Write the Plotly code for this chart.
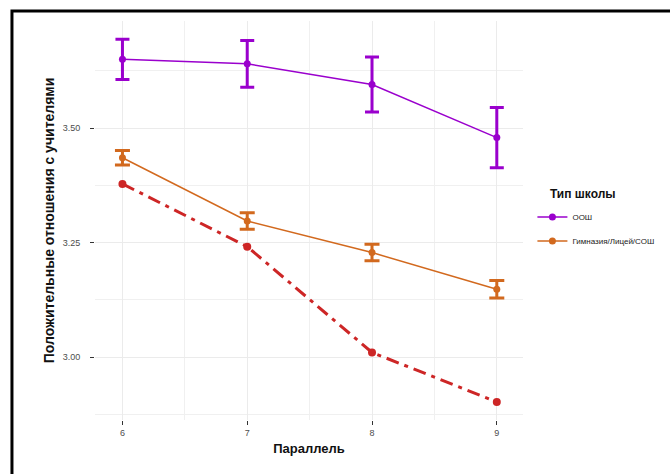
import plotly.graph_objects as go

grades = [6, 7, 8, 9]

oosh_mean = [3.650, 3.640, 3.595, 3.479]
oosh_err = [0.044, 0.051, 0.060, 0.066]

gym_mean = [3.435, 3.297, 3.228, 3.148]
gym_err = [0.016, 0.018, 0.018, 0.019]

total_mean = [3.378, 3.241, 3.010, 2.902]

series_names = ["ООШ", "Гимназия/Лицей/СОШ"]
legend_title = "Тип школы"
x_title = "Параллель"
y_title = "Положительные отношения с учителями"
y_ticks = [3.00, 3.25, 3.50]
y_ticktext = ["3.00", "3.25", "3.50"]

PURPLE = "#9A00CD"
ORANGE = "#D2691E"
RED = "#CD2626"
FONT = "Liberation Sans"

fig = go.Figure()

fig.add_trace(go.Scatter(
    x=grades, y=total_mean, mode="lines+markers",
    line=dict(color=RED, width=3, dash="13px,6px,4px,6px"),
    marker=dict(color=RED, size=8),
    showlegend=False, hoverinfo="x+y",
))

fig.add_trace(go.Scatter(
    x=grades, y=gym_mean, mode="lines+markers", name=series_names[1],
    line=dict(color=ORANGE, width=1.5),
    marker=dict(color=ORANGE, size=7),
    error_y=dict(type="data", array=gym_err, color=ORANGE, thickness=3, width=7.5),
    legendgroup="b", legendrank=2,
))

fig.add_trace(go.Scatter(
    x=grades, y=oosh_mean, mode="lines+markers", name=series_names[0],
    line=dict(color=PURPLE, width=1.5),
    marker=dict(color=PURPLE, size=7),
    error_y=dict(type="data", array=oosh_err, color=PURPLE, thickness=3, width=7),
    legendgroup="a", legendrank=1,
))

fig.update_layout(
    width=670, height=474,
    margin=dict(l=95, r=147, t=21, b=54, autoexpand=False),
    paper_bgcolor="white", plot_bgcolor="white",
    font=dict(family=FONT, color="#222222"),
    legend=dict(
        font=dict(size=8, color="#222222"),
        x=1.022, xanchor="left", y=0.545, yanchor="top",
        tracegroupgap=5, itemwidth=30,
        bgcolor="rgba(0,0,0,0)",
    ),
    annotations=[dict(
        text="<b>" + legend_title + "</b>", xref="paper", yref="paper",
        x=1.059, y=0.567, xanchor="left", yanchor="middle", showarrow=False,
        font=dict(size=12, color="#111111", family=FONT),
    )],
    xaxis=dict(
        range=[5.78, 9.21], tickvals=grades, ticktext=[str(g) for g in grades],
        showgrid=True, gridcolor="#EBEBEB", gridwidth=1,
        minor=dict(dtick=0.5, tick0=5.5, showgrid=True, gridcolor="#F0F0F0", gridwidth=1),
        ticks="outside", ticklen=4, tickwidth=1, tickcolor="#333333",
        tickfont=dict(size=9, color="#4D4D4D"),
        zeroline=False, showline=False,
        title=dict(text="<b>" + x_title + "</b>", font=dict(size=13, color="#111111"), standoff=7),
    ),
    yaxis=dict(
        range=[2.8625, 3.7336], tickvals=y_ticks, ticktext=y_ticktext,
        showgrid=True, gridcolor="#EBEBEB", gridwidth=1,
        minor=dict(dtick=0.25, tick0=2.875, showgrid=True, gridcolor="#F0F0F0", gridwidth=1),
        ticks="outside", ticklen=4, tickwidth=1, tickcolor="#333333",
        tickfont=dict(size=9, color="#4D4D4D"), ticklabelstandoff=8,
        zeroline=False, showline=False,
        title=dict(text="<b>" + y_title + "</b>", font=dict(size=14, color="#111111"), standoff=4),
    ),
    shapes=[dict(
        type="rect", xref="paper", yref="paper",
        x0=-0.194, x1=1.40, y0=-0.20, y1=1.025,
        line=dict(color="black", width=3), fillcolor="rgba(0,0,0,0)", layer="above",
    )],
)

fig.write_html("out.html", config={"displayModeBar": False},
               post_script="document.body.style.margin='0';")
